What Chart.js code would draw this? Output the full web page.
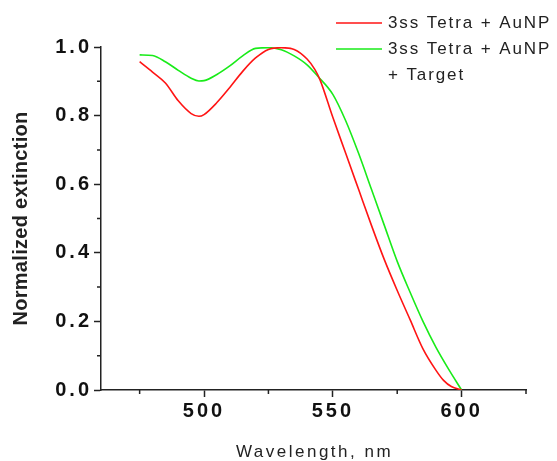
<!DOCTYPE html>
<html>
<head>
<meta charset="utf-8">
<script src="https://cdn.jsdelivr.net/npm/chart.js@4"></script>
<style>
    body { margin: 0; background: #fff; }
    #wrap { width: 557px; height: 461px; }
</style>
</head>
<body>
<div id="wrap"><canvas id="espectro" width="557" height="461"></canvas></div>
<script>
// longitudes de onda (nm) y extinción normalizada
const wlRed = [475, 480, 485, 490, 495, 498, 500, 505, 510, 515, 520, 525, 530, 535, 540, 543, 545, 550, 555, 560, 565, 570, 575, 580, 585, 590, 593, 596, 600];
const extRed = [0.957, 0.927, 0.895, 0.843, 0.806, 0.798, 0.803, 0.838, 0.882, 0.929, 0.968, 0.993, 0.998, 0.993, 0.965, 0.935, 0.905, 0.795, 0.69, 0.585, 0.48, 0.38, 0.29, 0.205, 0.12, 0.058, 0.028, 0.01, 0.0];

const wlGreen = [475, 480, 485, 490, 495, 498, 500, 505, 510, 515, 520, 525, 530, 535, 540, 544, 550, 555, 560, 565, 570, 575, 580, 585, 590, 595, 600];
const extGreen = [0.977, 0.975, 0.957, 0.932, 0.909, 0.901, 0.902, 0.92, 0.945, 0.974, 0.996, 0.998, 0.992, 0.974, 0.948, 0.916, 0.862, 0.785, 0.69, 0.585, 0.48, 0.375, 0.285, 0.2, 0.125, 0.06, 0.0];

const seriesLabels = ['3ss Tetra + AuNP', ['3ss Tetra + AuNP', '+ Target']];

// marcas de los ejes
const xTicks = [500, 550, 600];
const xMinor = [475, 525, 575, 625];
const yTicks = [0, 0.2, 0.4, 0.6, 0.8, 1.0];
const yMinor = [0.1, 0.3, 0.5, 0.7, 0.9];

const xTitle = 'Wavelength, nm';
const yTitle = 'Normalized extinction';

const fam = '"Liberation Sans", Arial, sans-serif';
const ink = '#222';

function toPoints(xs, ys) {
    return xs.map((x, i) => ({ x, y: ys[i] }));
}

// títulos, leyenda y marcas menores
const extras = {
    id: 'extras',
    beforeDraw(chart) {
        chart.ctx.letterSpacing = '3px';
    },
    afterDraw(chart) {
        const { ctx, chartArea, scales } = chart;
        ctx.save();

        ctx.strokeStyle = ink;
        ctx.lineWidth = 1.5;
        ctx.beginPath();
        yMinor.forEach((v) => {
            const y = scales.y.getPixelForValue(v);
            ctx.moveTo(chartArea.left - 4, y);
            ctx.lineTo(chartArea.left, y);
        });
        xMinor.forEach((v) => {
            const x = scales.x.getPixelForValue(v);
            ctx.moveTo(x, chartArea.bottom);
            ctx.lineTo(x, chartArea.bottom + 4);
        });
        ctx.stroke();

        // título eje x
        ctx.fillStyle = ink;
        ctx.letterSpacing = '2.5px';
        ctx.font = '17px ' + fam;
        ctx.textAlign = 'center';
        ctx.textBaseline = 'middle';
        ctx.fillText(xTitle, (chartArea.left + chartArea.right) / 2 + 1, 452);

        // título eje y
        ctx.save();
        ctx.letterSpacing = '0.3px';
        ctx.font = 'bold 20px ' + fam;
        ctx.translate(21, (chartArea.top + chartArea.bottom) / 2);
        ctx.rotate(-Math.PI / 2);
        ctx.fillText(yTitle, 0, 0);
        ctx.restore();

        // leyenda
        ctx.letterSpacing = '1.9px';
        ctx.font = '17px ' + fam;
        ctx.textAlign = 'left';
        let rowY = 23;
        chart.data.datasets.forEach((ds) => {
            ctx.strokeStyle = ds.borderColor;
            ctx.lineWidth = 1.6;
            ctx.beginPath();
            ctx.moveTo(336, rowY);
            ctx.lineTo(382, rowY);
            ctx.stroke();
            const lines = Array.isArray(ds.label) ? ds.label : [ds.label];
            ctx.fillStyle = ink;
            lines.forEach((t, i) => {
                ctx.fillText(t, 388, rowY + i * 26);
            });
            rowY += lines.length * 26;
        });

        ctx.restore();
    },
};

const chart = new Chart(document.getElementById('espectro'), {
    type: 'line',
    data: {
        datasets: [{
            label: seriesLabels[0],
            data: toPoints(wlRed, extRed),
            borderColor: 'rgb(255, 20, 20)',
            borderWidth: 1.6,
            pointRadius: 0,
            cubicInterpolationMode: 'monotone',
        }, {
            label: seriesLabels[1],
            data: toPoints(wlGreen, extGreen),
            borderColor: 'rgb(25, 235, 25)',
            borderWidth: 1.6,
            pointRadius: 0,
            cubicInterpolationMode: 'monotone',
        }],
    },
    options: {
        responsive: false,
        animation: false,
        layout: { padding: { left: 0, top: 47, right: 31, bottom: 0 } },
        plugins: {
            legend: { display: false },
            tooltip: { enabled: false },
        },
        scales: {
            x: {
                type: 'linear',
                min: 460,
                max: 625,
                afterBuildTicks: (s) => { s.ticks = xTicks.map((v) => ({ value: v })); },
                afterFit: (s) => { s.height = 71; },
                grid: { drawOnChartArea: false, tickLength: 7, tickColor: ink, tickWidth: 1.5 },
                border: { color: ink, width: 1.5 },
                ticks: {
                    color: '#111',
                    padding: 2,
                    maxRotation: 0,
                    font: { family: fam, size: 20, weight: 'bold' },
                },
            },
            y: {
                min: 0,
                max: 1,
                afterBuildTicks: (s) => { s.ticks = yTicks.map((v) => ({ value: v })); },
                afterFit: (s) => { s.width = 101; },
                grid: { drawOnChartArea: false, tickLength: 7, tickColor: ink, tickWidth: 1.5 },
                border: { color: ink, width: 1.5 },
                ticks: {
                    color: '#111',
                    padding: 2,
                    callback: (v) => v.toFixed(1),
                    font: { family: fam, size: 20, weight: 'bold' },
                },
            },
        },
    },
    plugins: [extras],
});
</script>
</body>
</html>
